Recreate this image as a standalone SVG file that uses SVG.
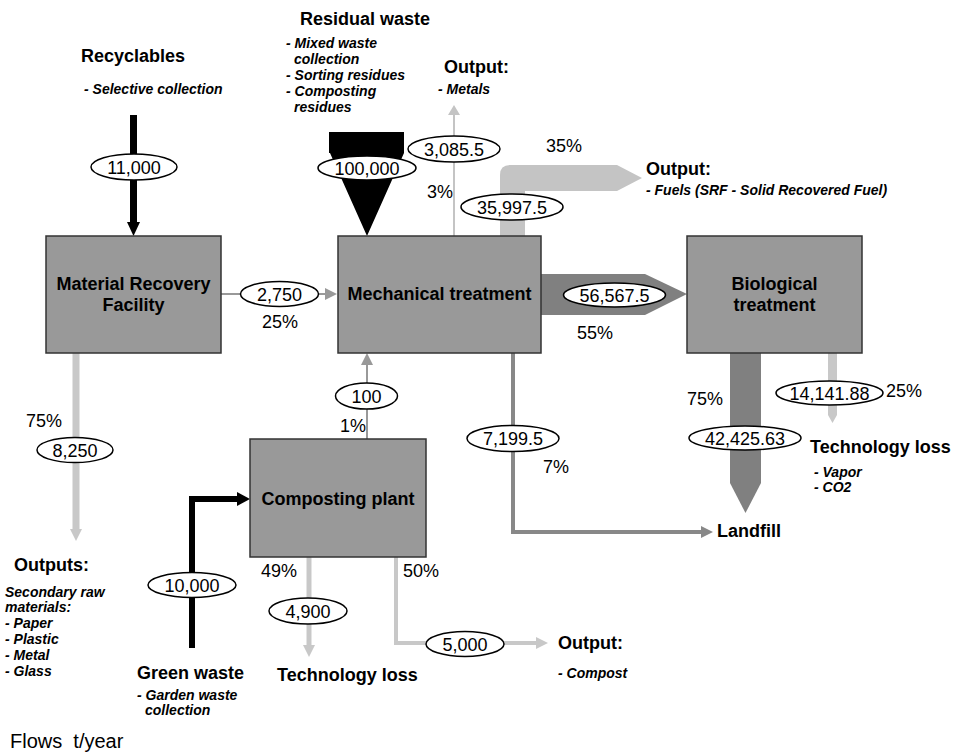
<svg xmlns="http://www.w3.org/2000/svg" width="961" height="753" viewBox="0 0 961 753">
<style>
text{font-family:"Liberation Sans",Arial,sans-serif;fill:#000}
.h{font-size:18px;font-weight:bold}
.s{font-size:14px;font-weight:bold;font-style:italic}
.n{font-size:18px}
.c{text-anchor:middle}
.box{fill:#999;stroke:#333;stroke-width:1.5}
.el{fill:#fff;stroke:#000;stroke-width:1.5}
</style>
<rect width="961" height="753" fill="#fff"/>
<g id="connectors">
  <!-- Recyclables -> MRF -->
  <line x1="133.5" y1="115" x2="133.5" y2="224" stroke="#000" stroke-width="7"/>
  <polygon points="127,222 140,222 133.5,236" fill="#000"/>
  <!-- Residual waste funnel -->
  <polygon points="329,132 404,132 404,153 367,236 330,153 329,153" fill="#000"/>
  <!-- MRF -> MT -->
  <line x1="221" y1="294" x2="326" y2="294" stroke="#999" stroke-width="2"/>
  <polygon points="325,288 337,294 325,300" fill="#999"/>
  <!-- MT -> Metals -->
  <line x1="454" y1="236" x2="454" y2="113" stroke="#c4c4c4" stroke-width="2"/>
  <polygon points="448,115 460,115 454,105" fill="#c4c4c4"/>
  <!-- MT -> Fuels -->
  <path d="M500,236 V175 Q500,165 510,165 H617 L642,178 L617,191 H525 V236 Z" fill="#c4c4c4"/>
  <!-- MT -> BT -->
  <polygon points="541,274 645,274 687,294 645,315 541,315" fill="#808080"/>
  <!-- MT -> Landfill -->
  <path d="M513,353 V532 H703" fill="none" stroke="#888" stroke-width="4"/>
  <polygon points="701,526 713,532 701,538" fill="#888"/>
  <!-- BT -> Landfill -->
  <polygon points="730,353 761,353 761,483 745.5,513 730,483" fill="#808080"/>
  <!-- BT -> Technology loss -->
  <polygon points="828,353 837,353 837,415 832.5,423 828,415" fill="#c8c8c8"/>
  <!-- MRF -> Outputs -->
  <line x1="76" y1="353" x2="76" y2="531" stroke="#c8c8c8" stroke-width="7"/>
  <polygon points="70,529 82,529 76,541" fill="#c8c8c8"/>
  <!-- Composting -> MT -->
  <line x1="367" y1="439" x2="367" y2="363" stroke="#999" stroke-width="2"/>
  <polygon points="361,365 373,365 367,353" fill="#999"/>
  <!-- Green waste -> Composting -->
  <path d="M192,648 V499 H239" fill="none" stroke="#000" stroke-width="6"/>
  <polygon points="237,492 250,499 237,506" fill="#000"/>
  <!-- Composting -> Technology loss -->
  <line x1="309" y1="557" x2="309" y2="647" stroke="#c8c8c8" stroke-width="5"/>
  <polygon points="303,645 315,645 309,657" fill="#c8c8c8"/>
  <!-- Composting -> Compost -->
  <path d="M396,557 V643 H538" fill="none" stroke="#c8c8c8" stroke-width="4"/>
  <polygon points="536,637 548,643 536,649" fill="#c8c8c8"/>
</g>
<g id="flow-labels">
  <ellipse class="el" cx="134" cy="167" rx="43" ry="13"/><text class="n c" x="134" y="173.5">11,000</text>
  <ellipse class="el" cx="367" cy="168" rx="49" ry="12"/><text class="n c" x="367" y="174.5">100,000</text>
  <ellipse class="el" cx="454" cy="149" rx="46" ry="13"/><text class="n c" x="454" y="155.5">3,085.5</text>
  <ellipse class="el" cx="512" cy="207" rx="51" ry="13"/><text class="n c" x="512" y="213.5">35,997.5</text>
  <ellipse class="el" cx="279.5" cy="294" rx="39" ry="12.5"/><text class="n c" x="279.5" y="300.5">2,750</text>
  <ellipse class="el" cx="614.5" cy="295" rx="51" ry="12"/><text class="n c" x="614.5" y="301.5">56,567.5</text>
  <ellipse class="el" cx="75" cy="450" rx="38" ry="12.5"/><text class="n c" x="75" y="456.5">8,250</text>
  <ellipse class="el" cx="366.5" cy="396" rx="31" ry="13"/><text class="n c" x="366.5" y="402.5">100</text>
  <ellipse class="el" cx="513" cy="438.5" rx="46" ry="13"/><text class="n c" x="513" y="445">7,199.5</text>
  <ellipse class="el" cx="745" cy="438" rx="56" ry="12"/><text class="n c" x="745" y="444.5">42,425.63</text>
  <ellipse class="el" cx="829.5" cy="393" rx="53.5" ry="12"/><text class="n c" x="829.5" y="399.5">14,141.88</text>
  <ellipse class="el" cx="192" cy="585" rx="44" ry="12.5"/><text class="n c" x="192" y="591.5">10,000</text>
  <ellipse class="el" cx="308" cy="611" rx="39" ry="13"/><text class="n c" x="308" y="617.5">4,900</text>
  <ellipse class="el" cx="465" cy="644" rx="39" ry="12.5"/><text class="n c" x="465" y="650.5">5,000</text>
</g>
<g id="percentages">
  <text class="n" x="262" y="328">25%</text>
  <text class="n" x="546" y="152">35%</text>
  <text class="n" x="427" y="198">3%</text>
  <text class="n" x="577" y="339">55%</text>
  <text class="n" x="26" y="427">75%</text>
  <text class="n" x="340" y="432">1%</text>
  <text class="n" x="543" y="473">7%</text>
  <text class="n" x="687" y="405">75%</text>
  <text class="n" x="886" y="397">25%</text>
  <text class="n" x="261" y="577">49%</text>
  <text class="n" x="403" y="577">50%</text>
</g>
<g id="mrf">
  <rect class="box" x="46" y="236" width="175" height="117"/>
  <text class="h c" x="133.5" y="290">Material Recovery</text>
  <text class="h c" x="133.5" y="311">Facility</text>
</g>
<g id="mechanical-treatment">
  <rect class="box" x="338" y="236" width="203" height="117"/>
  <text class="h c" x="439.5" y="300">Mechanical treatment</text>
</g>
<g id="biological-treatment">
  <rect class="box" x="687" y="236" width="175" height="117"/>
  <text class="h c" x="774.5" y="290">Biological</text>
  <text class="h c" x="774.5" y="311">treatment</text>
</g>
<g id="composting-plant">
  <rect class="box" x="250" y="439" width="176" height="118"/>
  <text class="h c" x="338" y="505">Composting plant</text>
</g>
<g id="recyclables">
  <text class="h" x="81" y="62">Recyclables</text>
  <text class="s" x="84" y="94">- Selective collection</text>
</g>
<g id="residual-waste">
  <text class="h" x="300" y="25">Residual waste</text>
  <text class="s" x="286" y="48">- Mixed waste</text>
  <text class="s" x="294" y="64">collection</text>
  <text class="s" x="286" y="80">- Sorting residues</text>
  <text class="s" x="286" y="96">- Composting</text>
  <text class="s" x="294" y="112">residues</text>
</g>
<g id="output-metals">
  <text class="h" x="444" y="73">Output:</text>
  <text class="s" x="438" y="94">- Metals</text>
</g>
<g id="output-fuels">
  <text class="h" x="646" y="175">Output:</text>
  <text class="s" x="646" y="195">- Fuels (SRF - Solid Recovered Fuel)</text>
</g>
<g id="outputs-secondary">
  <text class="h" x="14" y="571">Outputs:</text>
  <text class="s" x="5" y="597">Secondary raw</text>
  <text class="s" x="5" y="612">materials:</text>
  <text class="s" x="5" y="628">- Paper</text>
  <text class="s" x="5" y="644">- Plastic</text>
  <text class="s" x="5" y="660">- Metal</text>
  <text class="s" x="5" y="676">- Glass</text>
</g>
<g id="green-waste">
  <text class="h" x="137" y="679">Green waste</text>
  <text class="s" x="137" y="700">- Garden waste</text>
  <text class="s" x="145" y="715">collection</text>
</g>
<g id="technology-loss-composting">
  <text class="h" x="277" y="681">Technology loss</text>
</g>
<g id="output-compost">
  <text class="h" x="558" y="649">Output:</text>
  <text class="s" x="558" y="678">- Compost</text>
</g>
<g id="landfill">
  <text class="h" x="717" y="537">Landfill</text>
</g>
<g id="technology-loss-biological">
  <text class="h" x="810" y="453">Technology loss</text>
  <text class="s" x="814" y="477">- Vapor</text>
  <text class="s" x="814" y="492">- CO2</text>
</g>
<g id="legend">
  <text x="10" y="748" style="font-size:20px" xml:space="preserve">Flows  t/year</text>
</g>
</svg>
